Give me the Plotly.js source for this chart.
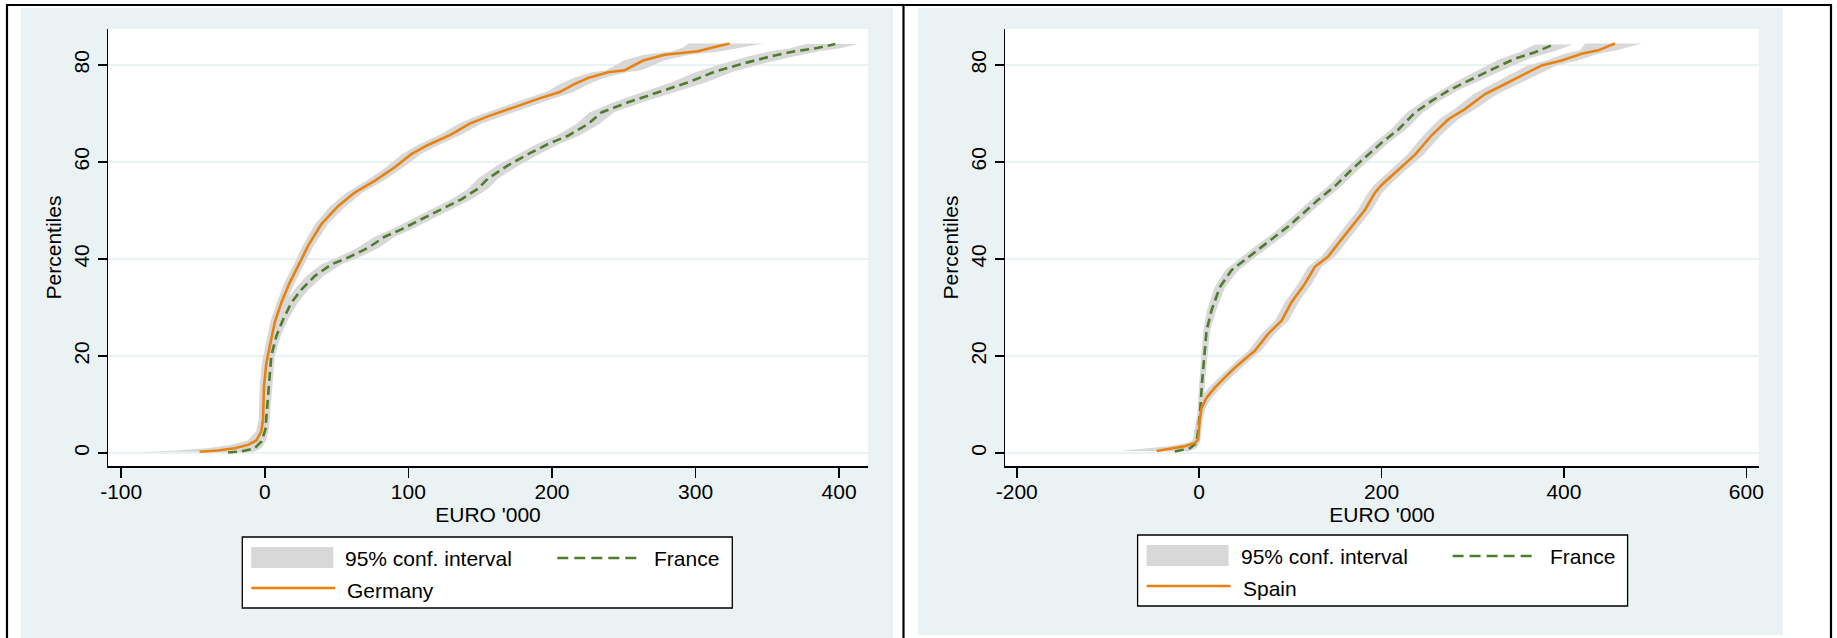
<!DOCTYPE html>
<html><head><meta charset="utf-8">
<script src="https://cdn.plot.ly/plotly-3.0.1.min.js"></script>
<style>html,body{margin:0;padding:0;background:#fff;}#chart{width:1837px;height:638px;}</style>
</head><body><div id="chart"></div>
<script>
// ---------- tick labels ----------
const xTicksLeft = [-100, 0, 100, 200, 300, 400];
const xTicksRight = [-200, 0, 200, 400, 600];
const yTicks = [0, 20, 40, 60, 80];

// ---------- Left panel: Germany (EURO '000 at each percentile) ----------
const germanyPct  = [0.3, 0.55, 1.0, 1.7, 2.6, 4.5, 6.9, 13.8, 18.6, 22, 26.9, 31, 35.1, 39.2, 42.7, 47.2, 50.9, 53.7, 56.1, 58.9, 61.6, 63.5, 65.7, 67.9, 69.4, 71.3, 73, 74.4, 76.1, 77.3, 78.5, 78.9, 79.9, 80.9, 82.1, 82.8, 83.7, 84.4];
const germanyEuro = [-45.4, -32.6, -21, -11.7, -5.9, -2.4, -1.25, -0.55, 1.1, 3.4, 6.9, 11.5, 17.3, 24.3, 30.1, 39.4, 51, 62.6, 76.5, 90.5, 102, 113.7, 129.9, 142.7, 155.4, 174, 190.3, 205.4, 215.9, 225.2, 239.1, 250.7, 257.6, 263.5, 278.5, 301.7, 313.3, 323.7];
const germanyLo   = [-85, -62, -40, -24, -12, -6, -4.3, -3.5, -2, 0.2, 3.7, 8.3, 13.7, 20.7, 26.3, 35, 45.6, 57, 70.5, 84.5, 95.5, 106.5, 122.5, 135, 147, 165, 181, 196, 206, 215, 228, 238, 244, 250, 264, 284, 292, 295];
const germanyHi   = [-30, -20, -11, -5, -2, 0.2, 1.5, 2.3, 4.2, 6.6, 10.1, 14.8, 20.9, 27.9, 34, 44, 56.4, 68.2, 82.5, 96.5, 108.5, 121, 137.5, 150.5, 164, 183, 200, 215, 226, 236, 252, 262, 270, 278, 296, 318, 333, 347];

// ---------- Left panel: France ----------
const franceLPct  = [0.14, 0.35, 1.0, 2.4, 4.8, 11.7, 20, 24.1, 27.5, 31, 33.7, 36.5, 38.9, 40.3, 42.3, 44.6, 46.1, 48.2, 50.3, 52.3, 54.5, 56.6, 59.3, 61.6, 63.7, 65.4, 67.8, 70.2, 72.3, 73.7, 75, 76.4, 78.6, 80.2, 81.8, 82.8, 83.4, 84.3];
const franceLEuro = [-25.6, -16.4, -7.1, -2.4, 0.4, 2.2, 4.5, 8, 12.7, 18.5, 25.5, 34.8, 46.4, 58, 71.9, 83.5, 95.1, 109, 122.9, 136.9, 148.5, 155.4, 169.4, 183.3, 197.3, 211.1, 225.1, 234.4, 253, 266.9, 280.8, 294.8, 313.4, 332, 352.9, 369.2, 383.1, 397.3];
const franceLLo   = [-45, -32, -16, -6, -2, 0, 2, 5, 9.3, 14, 20.5, 29, 39.5, 50.5, 64.5, 76.5, 88, 102, 116, 130, 141.5, 148.5, 162, 176, 189.5, 203, 217, 226, 243, 256, 269, 283, 301, 318, 337, 352, 365, 377];
const franceLHi   = [-12, -7, -2.5, 0.5, 2.8, 4.6, 7, 11, 16.1, 23, 30.5, 41, 53.5, 65.5, 79.5, 90.5, 102, 116, 130, 144, 155.5, 162.5, 177, 191, 205, 219, 233, 243, 263, 278, 292, 307, 326, 346, 369, 386, 400, 413];

// ---------- Right panel: Spain ----------
const spainPct  = [0.45, 0.9, 1.4, 2.1, 2.8, 6.6, 9.3, 11.4, 13.5, 15.6, 17.6, 19.4, 21.1, 24.6, 27.3, 31.1, 34.9, 38.4, 40.5, 43.2, 46.7, 50.1, 53.6, 55.3, 58.4, 61.5, 65.5, 68.8, 70.9, 74, 75.7, 77.8, 79.9, 80.9, 82.3, 83, 84.4];
const spainEuro = [-46.7, -30.3, -15.7, -4.7, -1.1, 0.4, 2.6, 8.1, 17.2, 28.3, 39.2, 50.2, 61.1, 75.7, 90.4, 101.3, 115.9, 126.9, 141.5, 152.5, 167.1, 181.7, 192.6, 200.3, 218.5, 236.8, 255, 273.3, 291.5, 313.5, 331.7, 353.6, 375.6, 397.5, 419.4, 437.7, 455.9];
const spainLo   = [-87, -58, -34, -14, -5, -2.5, -1, 2, 10.5, 21.5, 32.5, 43.5, 54, 68.5, 83, 94, 108.5, 119.5, 134, 145, 159.5, 174, 185, 192, 210, 228, 246, 263, 280, 301, 318, 339, 360, 381, 401, 418, 423];
const spainHi   = [-25, -14, -6, -1, 1.5, 3.5, 7, 14, 24, 35, 46, 57, 68, 83, 98, 109, 123.5, 134.5, 149, 160, 175, 189.5, 200.5, 209, 227, 246, 265, 284, 303, 327, 346, 369, 392, 415, 438, 458, 485];

// ---------- Right panel: France ----------
const franceRPct  = [0.35, 1.0, 2.1, 8, 14.9, 19.7, 25.2, 29.4, 34.2, 37.7, 39.8, 42.5, 45, 46.7, 49.1, 52.2, 55, 58.4, 61.5, 64, 66.7, 70.2, 72.6, 74.7, 76.4, 78.1, 79.7, 81.3, 82.6, 84.2];
const franceREuro = [-26.6, -10.2, -2.9, 0.8, 3.3, 5.5, 8.1, 13.5, 22.7, 35.5, 50.1, 68.4, 86.7, 97.6, 112.2, 130.5, 148.8, 167, 185.3, 200.3, 218.5, 236.8, 255, 273.3, 291.5, 309.8, 328.1, 346.4, 368.3, 388.4];
const franceRLo   = [-48, -22, -8, -2, 0.3, 2.3, 4.5, 8.5, 17, 28.5, 42, 60.5, 79, 90, 105, 123, 141.5, 159.5, 178, 192.5, 210, 228, 246, 264, 280, 297, 314, 331, 351, 368];
const franceRHi   = [-12, -3, 0.5, 3.8, 6.5, 9, 12, 18.5, 28.5, 43, 58, 76.5, 94.5, 105, 119.5, 138, 156, 174.5, 193, 208, 227, 245.5, 264, 283, 303, 323, 342, 362, 386, 410];

// ---------- styles ----------
const W = 1837, H = 638;
const FONT = 'Liberation Sans, Arial, sans-serif';
const FS = 21;
const CI_COLOR = '#d8d8d8';
const ORANGE = '#e8820c';
const GREEN = '#4f7d2c';
const PANEL = '#eaf2f3';
const px = v => v / W;           // horizontal pixel -> paper
const py = v => 1 - v / H;       // vertical pixel -> paper

function band(lo, hi, pct, xa, ya) {
  return {
    x: lo.concat(hi.slice().reverse()),
    y: pct.concat(pct.slice().reverse()),
    xaxis: xa, yaxis: ya,
    mode: 'lines', fill: 'toself', fillcolor: CI_COLOR,
    line: {width: 0, color: CI_COLOR},
    hoverinfo: 'skip', showlegend: false
  };
}
function curve(xs, ys, color, dash, xa, ya, name) {
  return {
    x: xs, y: ys, xaxis: xa, yaxis: ya, name: name,
    mode: 'lines', line: {color: color, width: 2.6, dash: dash},
    showlegend: false
  };
}

const traces = [
  band(germanyLo, germanyHi, germanyPct, 'x', 'y'),
  band(franceLLo, franceLHi, franceLPct, 'x', 'y'),
  curve(franceLEuro, franceLPct, GREEN, '9px,5px', 'x', 'y', 'France'),
  curve(germanyEuro, germanyPct, ORANGE, 'solid', 'x', 'y', 'Germany'),
  band(spainLo, spainHi, spainPct, 'x2', 'y2'),
  band(franceRLo, franceRHi, franceRPct, 'x2', 'y2'),
  curve(franceREuro, franceRPct, GREEN, '9px,5px', 'x2', 'y2', 'France'),
  curve(spainEuro, spainPct, ORANGE, 'solid', 'x2', 'y2', 'Spain')
];

const tickFont = {family: FONT, size: FS, color: '#000'};
function xAxis(domain, range, ticks) {
  return {
    domain: domain, range: range, tickvals: ticks, ticktext: ticks.map(String),
    ticks: 'outside', ticklen: 10, tickwidth: 1.5, tickcolor: '#000',
    ticklabelstandoff: -4,
    showline: true, linecolor: '#000', linewidth: 1.5,
    showgrid: false, zeroline: false, tickfont: tickFont,
    title: {text: "EURO '000", font: tickFont, standoff: 0},
    fixedrange: true
  };
}
function yAxis(anchor) {
  return {
    domain: [py(466), py(29)], range: [-2.65, 87.4], tickvals: yTicks, ticktext: yTicks.map(String),
    anchor: anchor, tickangle: -90,
    ticks: 'outside', ticklen: 9, tickwidth: 1.5, tickcolor: '#000',
    showline: true, linecolor: '#000', linewidth: 1.5,
    showgrid: true, gridcolor: PANEL, gridwidth: 1.5, zeroline: false,
    tickfont: tickFont,
    title: {text: 'Percentiles', font: tickFont, standoff: 2},
    fixedrange: true
  };
}

const shapes = [];
// light panels
shapes.push({type: 'rect', xref: 'paper', yref: 'paper', x0: px(21), x1: px(893), y0: py(638), y1: py(8), fillcolor: PANEL, line: {width: 0}, layer: 'below'});
shapes.push({type: 'rect', xref: 'paper', yref: 'paper', x0: px(918), x1: px(1783), y0: py(635), y1: py(8), fillcolor: PANEL, line: {width: 0}, layer: 'below'});
// white plot regions
[['x', 'y'], ['x2', 'y2']].forEach(([xa, ya]) => shapes.push({type: 'rect', xref: xa + ' domain', yref: ya + ' domain', x0: 0, x1: 1, y0: 0, y1: 1, fillcolor: '#fff', line: {width: 0}, layer: 'below'}));
// black frame lines
const frameLine = {color: '#000', width: 2.2};
shapes.push({type: 'line', xref: 'paper', yref: 'paper', x0: px(6), x1: px(1832), y0: py(5), y1: py(5), line: frameLine});
[7, 903.5, 1831].forEach(xv => shapes.push({type: 'line', xref: 'paper', yref: 'paper', x0: px(xv), x1: px(xv), y0: py(638), y1: py(5), line: frameLine}));

// legends
const annotations = [];
function legend(x0, yTop, second) {
  const x = v => px(x0 + v);
  const y = v => py(yTop + v);
  shapes.push({type: 'rect', xref: 'paper', yref: 'paper', x0: x(0), x1: x(490), y0: y(71), y1: y(0), fillcolor: '#fff', line: {color: '#000', width: 1.3}});
  shapes.push({type: 'rect', xref: 'paper', yref: 'paper', x0: x(9), x1: x(91), y0: y(31), y1: y(10), fillcolor: CI_COLOR, line: {width: 0}});
  shapes.push({type: 'line', xref: 'paper', yref: 'paper', x0: x(315), x1: x(398), y0: y(21), y1: y(21), line: {color: GREEN, width: 2.6, dash: '11px,6px'}});
  shapes.push({type: 'line', xref: 'paper', yref: 'paper', x0: x(9), x1: x(93), y0: y(51), y1: y(51), line: {color: ORANGE, width: 2.6}});
  const t = (txt, xx, yy) => annotations.push({text: txt, xref: 'paper', yref: 'paper', x: x(xx), y: y(yy), xanchor: 'left', yanchor: 'middle', showarrow: false, font: {family: FONT, size: FS, color: '#000'}});
  t('95% conf. interval', 101, 21);
  t('France', 410, 21);
  t(second, 103, 53);
}
legend(242.3, 537, 'Germany');
legend(1137.6, 535, 'Spain');

const layout = {
  width: W, height: H,
  margin: {l: 0, r: 0, t: 0, b: 0},
  paper_bgcolor: '#fff', plot_bgcolor: '#fff',
  showlegend: false,
  font: {family: FONT, size: FS, color: '#000'},
  xaxis: xAxis([px(108), px(868)], [-109.2, 420.1], xTicksLeft),
  yaxis: yAxis('x'),
  xaxis2: Object.assign(xAxis([px(1005), px(1759)], [-212.9, 613.9], xTicksRight), {anchor: 'y2'}),
  yaxis2: yAxis('x2'),
  shapes: shapes,
  annotations: annotations
};
layout.xaxis.anchor = 'y';

Plotly.newPlot('chart', traces, layout, {displayModeBar: false, staticPlot: true});
</script>
</body></html>
